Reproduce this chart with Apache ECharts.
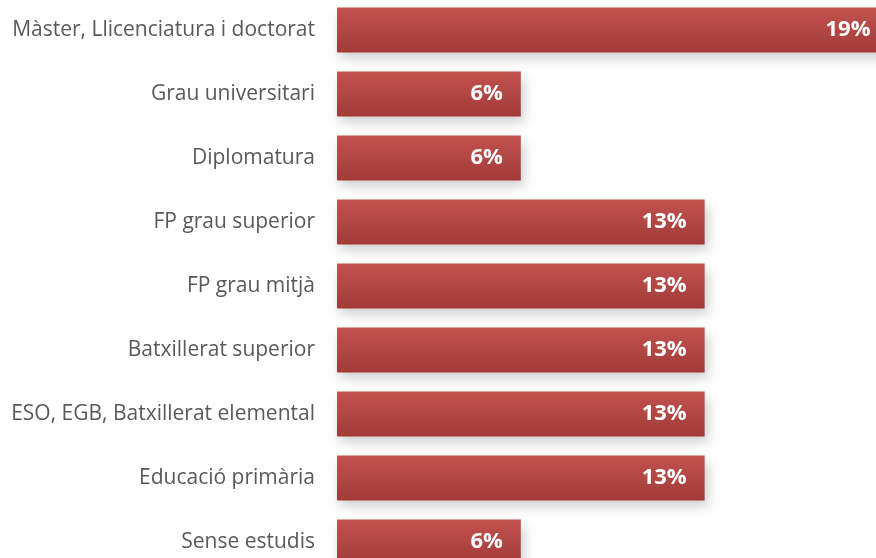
<!DOCTYPE html>
<html><head><meta charset="utf-8">
<script src="https://cdn.jsdelivr.net/npm/echarts@6/dist/echarts.min.js"></script>
<style>html,body{margin:0;padding:0;background:#fff}#c{width:876px;height:558px}</style>
</head><body><div id="c"></div>
<script>
const categories = ["Màster, Llicenciatura i doctorat","Grau universitari","Diplomatura","FP grau superior","FP grau mitjà","Batxillerat superior","ESO, EGB, Batxillerat elemental","Educació primària","Sense estudis"];
const values = [19.35, 6.45, 6.45, 12.9, 12.9, 12.9, 12.9, 12.9, 6.45];
const chart = echarts.init(document.getElementById('c'));
chart.setOption({
  animation:false,
  grid:{left:337, top:-2, width:570, height:576, containLabel:false, outerBoundsMode:'none'},
  xAxis:{type:'value', min:0, max:20, show:false},
  yAxis:{type:'category', inverse:true, data:categories,
    axisLine:{show:false}, axisTick:{show:false},
    axisLabel:{margin:22, color:'#595959', fontSize:21, fontFamily:'Open Sans'}},
  series:[{type:'bar', data:values, barWidth:'70%',
    itemStyle:{color:new echarts.graphic.LinearGradient(0,0,0,1,[{offset:0,color:'#c3524f'},{offset:1,color:'#a13b39'}]),
      shadowBlur:12, shadowOffsetX:3, shadowOffsetY:6, shadowColor:'rgba(0,0,0,0.2)'},
    label:{show:true, position:'insideRight', distance:18, color:'#fff', fontWeight:'bold', fontSize:22, fontFamily:'Open Sans',
      formatter:p=>Math.round(p.value)+'%'}}]
});
</script></body></html>
